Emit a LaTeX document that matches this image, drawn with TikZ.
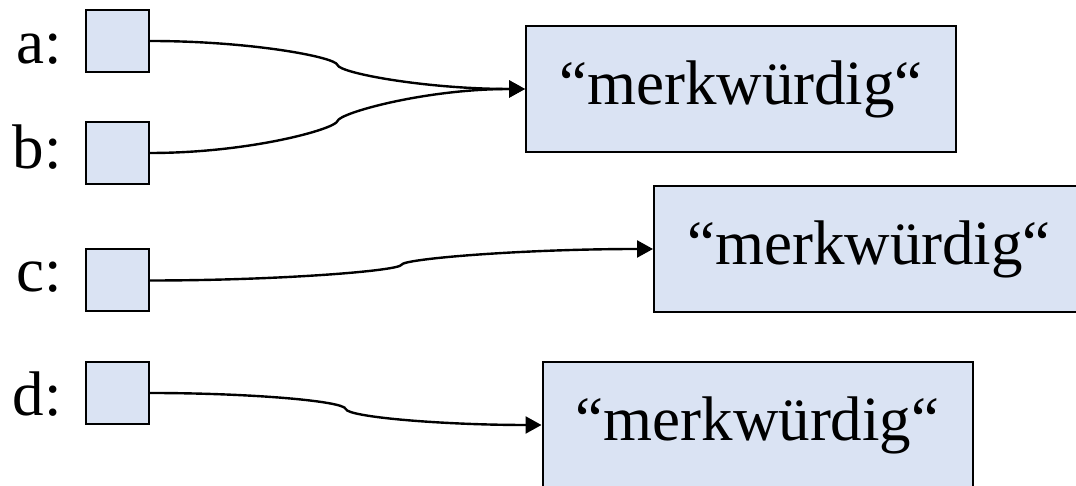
\documentclass[tikz,border=0pt]{standalone}
\usepackage{fontspec}
\setmainfont{Liberation Serif}
\usetikzlibrary{arrows.meta, positioning, calc}
\definecolor{cellcolor}{RGB}{218, 227, 243}

\begin{document}
\begin{tikzpicture}[x=1pt, y=1pt,
    cell/.style={draw, line width=2pt, fill=cellcolor, minimum width=63pt, minimum height=62pt},
    strbox/.style={draw, line width=2pt, fill=cellcolor, minimum width=430pt, minimum height=126pt, font=\fontsize{63}{70}\selectfont},
    varname/.style={anchor=base east, inner sep=0pt, font=\fontsize{63}{70}\selectfont},
    ref/.style={line width=2.4pt, -{Triangle[length=16pt, width=17pt]}}
]
    \useasboundingbox (0,0) rectangle (1076,486);
    % variables
    \node[cell] (a) at (117.5,445) {};
    \node[cell] (b) at (117.5,333) {};
    \node[cell] (c) at (117.5,205.5) {};
    \node[cell] (d) at (117.5,93) {};
    \node[varname] (la) at (62,422) {a:};
    \node[varname] (lb) at (62,317) {b:};
    \node[varname] (lc) at (62,194) {c:};
    \node[varname] (ld) at (62,70) {d:};
    % strings
    \node[strbox] (s1) at (741,397) {“merkwürdig“};
    \node[strbox] (s2) at (869,237) {“merkwürdig“};
    \node[strbox] (s3) at (757.5,61) {“merkwürdig“};
    % references
    \coordinate (ka) at ($(a.east)!0.5!(s1.west)$);
    \coordinate (kb) at ($(b.east)!0.5!(s1.west)$);
    \coordinate (kc) at ($(c.east)!0.5!(s2.west)$);
    \coordinate (kd) at ($(d.east)!0.5!(s3.west)$);
    \draw[ref] (a.east) .. controls +(100,0) and +(-2,8) .. (ka) .. controls +(2,-8) and +(-100,0) .. (s1.west);
    \draw[ref] (b.east) .. controls +(100,0) and +(-2,-8) .. (kb) .. controls +(2,8) and +(-100,0) .. (s1.west);
    \draw[ref] (c.east) .. controls +(130,0) and +(-2,-6) .. (kc) .. controls +(2,6) and +(-130,0) .. (s2.west);
    \draw[ref] (d.east) .. controls +(100,0) and +(-2,8) .. (kd) .. controls +(2,-8) and +(-100,0) .. (s3.west);
\end{tikzpicture}
\end{document}
